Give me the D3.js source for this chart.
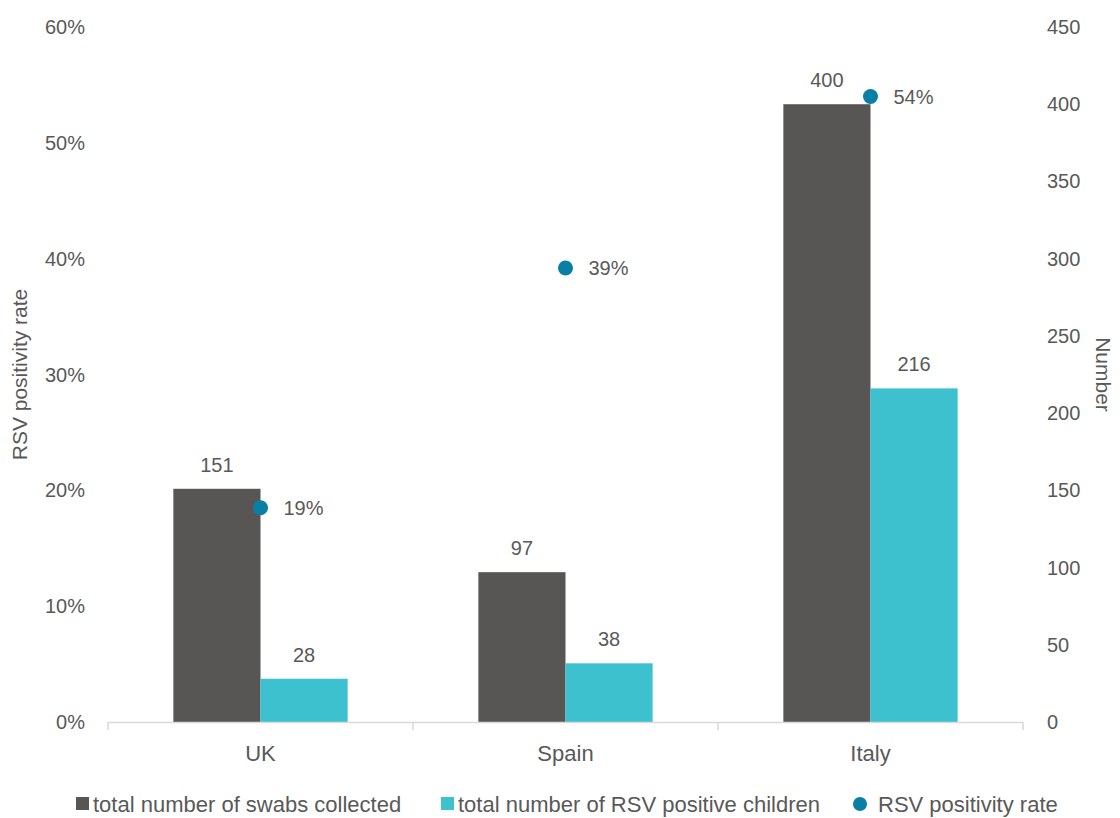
<!DOCTYPE html>
<html><head><meta charset="utf-8">
<script src="https://cdn.jsdelivr.net/npm/d3@7"></script>
<style>body{margin:0;background:#fff;}text{font-family:"Liberation Sans",Arial,sans-serif;fill:#595959;}</style>
</head><body>
<svg id="c" width="1120" height="818"></svg>
<script>
const categories = ["UK", "Spain", "Italy"];
const swabs = [151, 97, 400];
const positives = [28, 38, 216];
const rate = [18.5, 39.2, 54.0];
const rateLabels = ["19%", "39%", "54%"];
const leftTicks = [0, 10, 20, 30, 40, 50, 60];
const rightTicks = [0, 50, 100, 150, 200, 250, 300, 350, 400, 450];
const seriesNames = ["total number of swabs collected", "total number of RSV positive children", "RSV positivity rate"];
const colors = ["#585655", "#3dc1ce", "#0a7fa6"];

const svg = d3.select("#c");
const L = 108, R = 1023, T = 27, B = 722;
const x = d3.scaleBand().domain(categories).range([L, R]).paddingInner(0).paddingOuter(0);
const yL = d3.scaleLinear().domain([0, 60]).range([B, T]);
const yR = d3.scaleLinear().domain([0, 450]).range([B, T]);
const bw = x.bandwidth() / 3.5;

const fs = 20, fsBig = 22;
svg.append("g").selectAll("text").data(leftTicks).join("text")
  .attr("x", 85).attr("y", d => yL(d)).attr("dy", "0.35em").attr("text-anchor", "end")
  .style("font-size", fs + "px").text(d => d + "%");
svg.append("g").selectAll("text").data(rightTicks).join("text")
  .attr("x", 1047).attr("y", d => yR(d)).attr("dy", "0.35em").attr("text-anchor", "start")
  .style("font-size", fs + "px").text(d => d);

// bars
const g = svg.append("g");
categories.forEach((c, i) => {
  const x0 = x(c) + x.bandwidth() / 2 - bw;
  g.append("rect").attr("x", x0).attr("y", yR(swabs[i])).attr("width", bw).attr("height", B - yR(swabs[i])).attr("fill", colors[0]);
  g.append("rect").attr("x", x0 + bw).attr("y", yR(positives[i])).attr("width", bw).attr("height", B - yR(positives[i])).attr("fill", colors[1]);
  g.append("text").attr("x", x0 + bw / 2).attr("y", yR(swabs[i]) - 24).attr("dy", "0.35em").attr("text-anchor", "middle").style("font-size", fs + "px").text(swabs[i]);
  g.append("text").attr("x", x0 + bw * 1.5).attr("y", yR(positives[i]) - 24).attr("dy", "0.35em").attr("text-anchor", "middle").style("font-size", fs + "px").text(positives[i]);
});

// x axis
const ax = svg.append("g");
ax.append("line").attr("x1", L).attr("x2", R).attr("y1", B + 0.5).attr("y2", B + 0.5).attr("stroke", "#d9d9d9").attr("stroke-width", 1.5);
[L, ...categories.map(c => x(c) + x.bandwidth())].forEach(px => {
  ax.append("line").attr("x1", px).attr("x2", px).attr("y1", B).attr("y2", B + 8).attr("stroke", "#d9d9d9").attr("stroke-width", 1.5);
});
ax.selectAll("text.cat").data(categories).join("text").attr("class", "cat")
  .attr("x", d => x(d) + x.bandwidth() / 2).attr("y", 753).attr("dy", "0.35em").attr("text-anchor", "middle")
  .style("font-size", fsBig + "px").text(d => d);

// dots
categories.forEach((c, i) => {
  const cx = x(c) + x.bandwidth() / 2;
  svg.append("circle").attr("cx", cx).attr("cy", yL(rate[i])).attr("r", 7.5).attr("fill", colors[2]);
  svg.append("text").attr("x", cx + 23).attr("y", yL(rate[i])).attr("dy", "0.35em").style("font-size", fs + "px").text(rateLabels[i]);
});

// axis titles
svg.append("text").attr("transform", `translate(27,${(T + B) / 2}) rotate(-90)`).attr("text-anchor", "middle").style("font-size", "21px").text("RSV positivity rate");
svg.append("text").attr("transform", `translate(1096,${(T + B) / 2}) rotate(90)`).attr("text-anchor", "middle").style("font-size", "21px").text("Number");

// legend
const ly = 804;
const leg = svg.append("g");
leg.append("rect").attr("x", 76).attr("y", ly - 7).attr("width", 13).attr("height", 13).attr("fill", colors[0]);
leg.append("text").attr("x", 93).attr("y", ly).attr("dy", "0.35em").style("font-size", fsBig + "px").text(seriesNames[0]);
leg.append("rect").attr("x", 441).attr("y", ly - 7).attr("width", 13).attr("height", 13).attr("fill", colors[1]);
leg.append("text").attr("x", 458).attr("y", ly).attr("dy", "0.35em").style("font-size", fsBig + "px").text(seriesNames[1]);
leg.append("circle").attr("cx", 860).attr("cy", ly).attr("r", 7).attr("fill", colors[2]);
leg.append("text").attr("x", 878).attr("y", ly).attr("dy", "0.35em").style("font-size", fsBig + "px").text(seriesNames[2]);
</script>
</body></html>
